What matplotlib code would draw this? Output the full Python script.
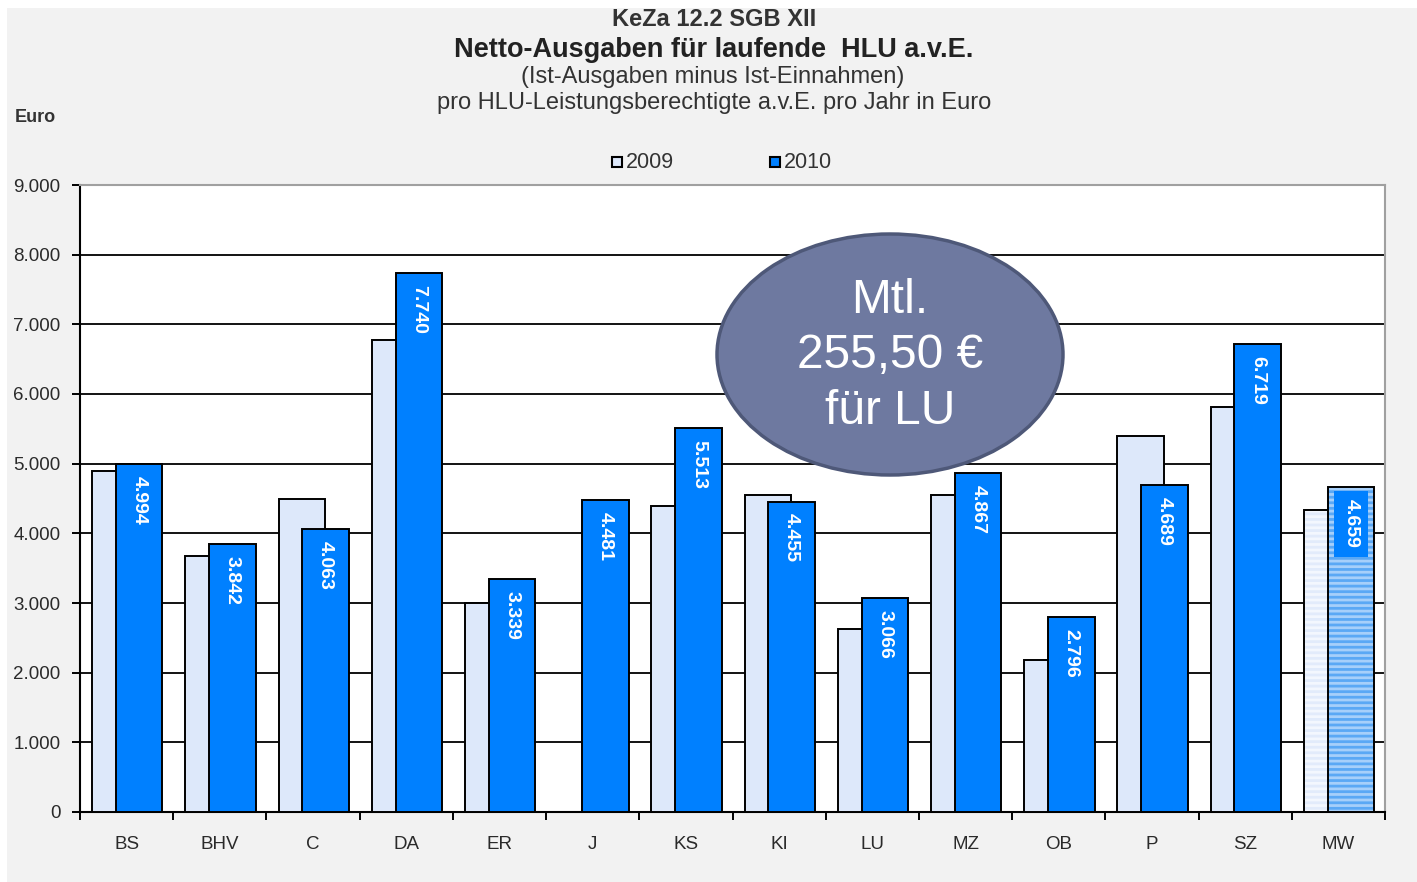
import numpy as np
import matplotlib
matplotlib.use("Agg")
import matplotlib.pyplot as plt
from matplotlib.patches import Rectangle, Ellipse

# ---- data ----
categories = ["BS", "BHV", "C", "DA", "ER", "J", "KS", "KI", "LU", "MZ", "OB", "P", "SZ", "MW"]
values_2009 = [4890, 3670, 4500, 6780, 3000, np.nan, 4390, 4550, 2630, 4550, 2180, 5390, 5810, 4340]
values_2010 = [4994, 3842, 4063, 7740, 3339, 4481, 5513, 4455, 3066, 4867, 2796, 4689, 6719, 4659]
labels_2010 = ["4.994", "3.842", "4.063", "7.740", "3.339", "4.481", "5.513", "4.455",
               "3.066", "4.867", "2.796", "4.689", "6.719", "4.659"]
series_names = ["2009", "2010"]
yticks = [0, 1000, 2000, 3000, 4000, 5000, 6000, 7000, 8000, 9000]
ytick_labels = ["0", "1.000", "2.000", "3.000", "4.000", "5.000", "6.000", "7.000", "8.000", "9.000"]
title_lines = ["KeZa 12.2 SGB XII",
               "Netto-Ausgaben für laufende  HLU a.v.E.",
               "(Ist-Ausgaben minus Ist-Einnahmen)",
               "pro HLU-Leistungsberechtigte a.v.E. pro Jahr in Euro"]
callout = "Mtl.\n255,50 €\nfür LU"

plt.rcParams['font.family'] = ['Liberation Sans', 'DejaVu Sans']

W, H = 1417, 882
fig = plt.figure(figsize=(W / 100, H / 100), dpi=100, facecolor="white")
# gray background panel
fig.patches.append(Rectangle((7 / W, 0), 1 - 7 / W, 1 - 8 / H, transform=fig.transFigure,
                             facecolor="#f2f2f2", edgecolor="none", zorder=-10))

ax = fig.add_axes([80 / W, 1 - 812 / H, (1385 - 80) / W, (812 - 185) / H])
ax.set_facecolor("white")

n = len(categories)
x = np.arange(n)
w = 0.5
c09 = "#dde8fa"
c10 = "#0080ff"
txt = "#2a2a2a"

main = slice(0, n - 1)
ax.bar(x[main] - 0.12, np.array(values_2009)[main], width=w, color=c09,
       edgecolor="black", linewidth=1.4, zorder=3, label=series_names[0])
ax.bar(x[main] + 0.135, np.array(values_2010)[main], width=w, color=c10,
       edgecolor="black", linewidth=1.4, zorder=4, label=series_names[1])

# MW: striped bars
plt.rcParams['hatch.linewidth'] = 2.0
i = n - 1
ax.bar(x[i] - 0.12, values_2009[i], width=w, color="#f3f7fe", edgecolor="#e2ebfb",
       linewidth=0, hatch="---", zorder=3)
ax.bar(x[i] - 0.12, values_2009[i], width=w, fill=False, edgecolor="black", linewidth=1.4, zorder=3.1)
ax.bar(x[i] + 0.135, values_2010[i], width=w, color="#a6cffa", edgecolor="#5aa8f5",
       linewidth=0, hatch="---", zorder=4)
ax.bar(x[i] + 0.135, values_2010[i], width=w, fill=False, edgecolor="black", linewidth=1.4, zorder=4.1)

# value labels
for k in range(n):
    kw = {}
    if k == n - 1:
        kw["bbox"] = dict(boxstyle="square,pad=0.45", facecolor=c10, edgecolor="none")
    ax.text(x[k] + 0.135, values_2010[k] - 170, labels_2010[k], rotation=-90,
            ha="center", va="top", color="white", fontsize=14, fontweight="bold",
            zorder=6, **kw)

ax.set_xlim(-0.5, n - 0.5)
ax.set_ylim(0, 9000)
ax.set_yticks(yticks)
ax.set_yticklabels(ytick_labels, fontsize=13.5, color=txt)
ax.set_xticks(x)
ax.set_xticklabels(categories, fontsize=13.5, color=txt)
ax.set_xticks(np.arange(-0.5, n, 1.0), minor=True)
ax.tick_params(axis="x", which="major", length=0, pad=17)
ax.tick_params(axis="x", which="minor", length=6, width=1.4, direction="out", color="black")
ax.tick_params(axis="y", length=6, width=1.4, direction="out", color="black", pad=8)
ax.grid(axis="y", color="black", linewidth=1.3, zorder=0)
ax.set_axisbelow(True)
for s in ["left", "bottom"]:
    ax.spines[s].set_color("black")
    ax.spines[s].set_linewidth(1.5)
for s in ["top", "right"]:
    ax.spines[s].set_color("#a0a0a0")
    ax.spines[s].set_linewidth(1.5)

# titles
fig.text(714 / W, 1 - 20 / H, title_lines[0], ha="center", va="center", fontsize=17,
         fontweight="bold", color="#333333")
fig.text(714 / W, 1 - 50 / H, title_lines[1], ha="center", va="center", fontsize=19.5,
         fontweight="bold", color="#222222")
fig.text(713 / W, 1 - 77 / H, title_lines[2], ha="center", va="center", fontsize=17,
         color="#333333")
fig.text(714 / W, 1 - 103 / H, title_lines[3], ha="center", va="center", fontsize=17,
         color="#333333")
fig.text(15 / W, 1 - 117 / H, "Euro", ha="left", va="center", fontsize=13,
         fontweight="bold", color="#333333")

# legend
leg_y = 1 - 162 / H
for xs, col, name in [(612, c09, series_names[0]), (770, c10, series_names[1])]:
    fig.patches.append(Rectangle((xs / W, leg_y - 5 / H), 10 / W, 10 / H,
                                 transform=fig.transFigure, facecolor=col,
                                 edgecolor="black", linewidth=1.5))
    fig.text((xs + 14) / W, leg_y, name, ha="left", va="center", fontsize=15.5, color="#333333")

# callout ellipse (in figure pixel coords)
ell = Ellipse((890 / W, 1 - 354.5 / H), 346 / W, 241 / H, transform=fig.transFigure,
              facecolor="#6e79a0", edgecolor="#4e5878", linewidth=2.5, zorder=10)
fig.patches.append(ell)
fig.text(890 / W, 1 - 356 / H, callout, ha="center", va="center", fontsize=34.5,
         color="white", linespacing=1.30, zorder=11)

fig.savefig("out.png", dpi=100, facecolor=fig.get_facecolor())
